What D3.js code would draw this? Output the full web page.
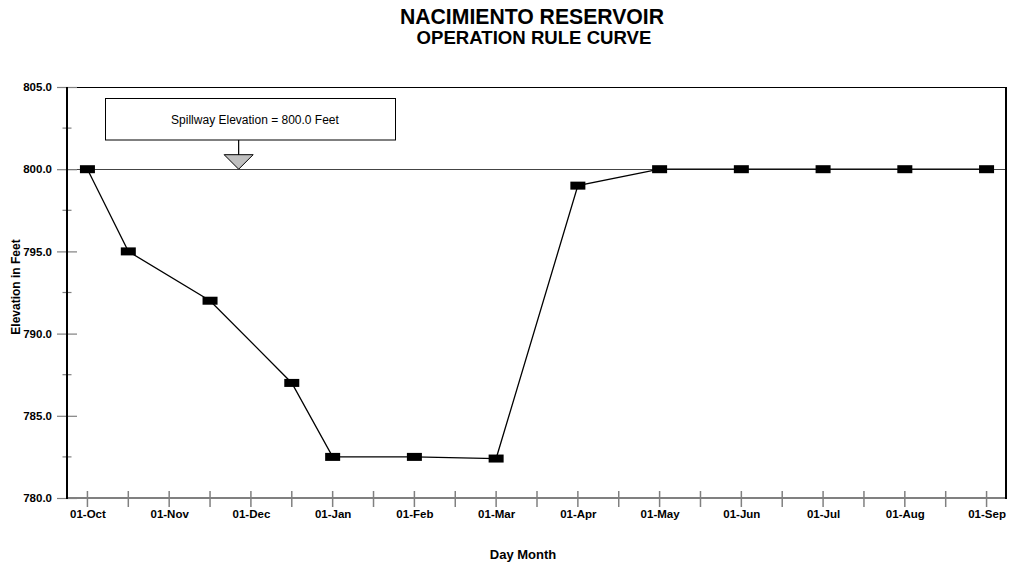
<!DOCTYPE html>
<html>
<head>
<meta charset="utf-8">
<script src="https://cdn.jsdelivr.net/npm/d3@7"></script>
<style>
  html, body { margin: 0; padding: 0; background: #fff; }
  svg { display: block; font-family: "Liberation Sans", Arial, Helvetica, sans-serif; }
</style>
</head>
<body>
<svg id="chart" width="1013" height="567"></svg>
<script>
// ---- data ----
const monthLabels = ["01-Oct","01-Nov","01-Dec","01-Jan","01-Feb","01-Mar","01-Apr","01-May","01-Jun","01-Jul","01-Aug","01-Sep"];
const pointDates   = ["01-Oct","15-Oct","15-Nov","15-Dec","01-Jan","01-Feb","01-Mar","01-Apr","01-May","01-Jun","01-Jul","01-Aug","01-Sep"];
const pointMonthOffset = [0, 0.5, 1.5, 2.5, 3, 4, 5, 6, 7, 8, 9, 10, 11];
const elevations  = [800, 795, 792, 787, 782.5, 782.5, 782.4, 799, 800, 800, 800, 800, 800];
const yTicks      = [780, 785, 790, 795, 800, 805];
const yMinorTicks = [782.5, 787.5, 792.5, 797.5, 802.5];
const spillwayElevation = 800;
const spillwayMonthOffset = 1.85;
const titleLines = ["NACIMIENTO RESERVOIR", "OPERATION RULE CURVE"];

// ---- layout ----
const svg = d3.select("#chart");
const L = 67, R = 1007, T = 87, B = 498;

const x = d3.scaleLinear().domain([-0.25, 11.25]).range([L, R]);
const y = d3.scaleLinear().domain([780, 805]).range([B, T]);

const grey = "#808080";

// titles
svg.append("text").attr("x", 532).attr("y", 24).attr("text-anchor", "middle")
  .attr("font-size", 21.2).attr("font-weight", "bold").text(titleLines[0]);
svg.append("text").attr("x", 534).attr("y", 43.5).attr("text-anchor", "middle")
  .attr("font-size", 18.6).attr("font-weight", "bold").text(titleLines[1]);

// top border
svg.append("line").attr("x1", L).attr("x2", R).attr("y1", T + 0.5).attr("y2", T + 0.5)
  .attr("stroke", "#000").attr("stroke-width", 1);

// spillway line
svg.append("line").attr("x1", L).attr("x2", R)
  .attr("y1", Math.round(y(spillwayElevation)) + 0.5).attr("y2", Math.round(y(spillwayElevation)) + 0.5)
  .attr("stroke", "#444").attr("stroke-width", 1);

// Y axis
const yAxis = svg.append("g").attr("transform", `translate(${L},0)`)
  .call(d3.axisLeft(y).tickValues(yTicks).tickFormat(d3.format(".1f")).tickSize(10).tickPadding(5));
yAxis.select(".domain").remove();
yAxis.selectAll(".tick line").attr("x1", 10).attr("stroke", grey).attr("stroke-width", 1.2);
yAxis.selectAll(".tick text").attr("font-size", 11.5).attr("font-weight", "bold")
  .attr("font-family", "Liberation Sans, Arial, sans-serif").attr("fill", "#000");
svg.append("g").selectAll("line").data(yMinorTicks).join("line")
  .attr("x1", L - 4.5).attr("x2", L + 4.5)
  .attr("y1", d => y(d)).attr("y2", d => y(d))
  .attr("stroke", grey).attr("stroke-width", 1.2);

// X axis
const xMinor = d3.range(0, 11.01, 0.5);
const xAxis = svg.append("g").attr("transform", `translate(0,${B})`)
  .call(d3.axisBottom(x).tickValues(d3.range(0, 12)).tickFormat(i => monthLabels[i]).tickSize(9));
xAxis.select(".domain").remove();
xAxis.selectAll(".tick line").remove();
xAxis.selectAll(".tick text").attr("y", 20).attr("dy", 0).attr("font-size", 11.5)
  .attr("font-weight", "bold").attr("font-family", "Liberation Sans, Arial, sans-serif").attr("fill", "#000");
svg.append("g").selectAll("line").data(xMinor).join("line")
  .attr("x1", d => x(d)).attr("x2", d => x(d))
  .attr("y1", B - 7).attr("y2", B + 9)
  .attr("stroke", grey).attr("stroke-width", 1.5);
svg.append("line").attr("x1", L).attr("x2", R).attr("y1", B).attr("y2", B)
  .attr("stroke", grey).attr("stroke-width", 2);

// left axis line & right border
svg.append("line").attr("x1", L).attr("x2", L).attr("y1", T).attr("y2", B + 1)
  .attr("stroke", "#000").attr("stroke-width", 2);
svg.append("line").attr("x1", R - 1).attr("x2", R - 1).attr("y1", T).attr("y2", B + 1)
  .attr("stroke", "#000").attr("stroke-width", 2);

// axis titles
svg.append("text").attr("transform", `translate(20,${287}) rotate(-90)`)
  .attr("text-anchor", "middle").attr("font-size", 12).attr("font-weight", "bold").text("Elevation in Feet");
svg.append("text").attr("x", 523).attr("y", 559).attr("text-anchor", "middle")
  .attr("font-size", 13).attr("font-weight", "bold").text("Day Month");

// spillway annotation
const ax = x(spillwayMonthOffset);
const ay = y(spillwayElevation);
svg.append("rect").attr("x", 105.5).attr("y", 98.5).attr("width", 290).attr("height", 41.5)
  .attr("fill", "#fff").attr("stroke", "#000").attr("stroke-width", 1);
svg.append("text").attr("x", 255).attr("y", 124).attr("text-anchor", "middle")
  .attr("font-size", 12).text("Spillway Elevation = " + spillwayElevation.toFixed(1) + " Feet");
svg.append("line").attr("x1", ax).attr("x2", ax).attr("y1", 140).attr("y2", ay - 14)
  .attr("stroke", "#000").attr("stroke-width", 1.2);
svg.append("path")
  .attr("d", `M${ax - 14.5},${ay - 14.5} L${ax + 14.5},${ay - 14.5} L${ax},${ay} Z`)
  .attr("fill", "#c0c0c0").attr("stroke", "#000").attr("stroke-width", 1);

// data line
const line = d3.line().x((d, i) => x(pointMonthOffset[i])).y(d => y(d));
svg.append("path").datum(elevations).attr("d", line)
  .attr("fill", "none").attr("stroke", "#000").attr("stroke-width", 1.3);

// markers
svg.append("g").selectAll("rect").data(elevations).join("rect")
  .attr("x", (d, i) => x(pointMonthOffset[i]) - 7.5)
  .attr("y", d => y(d) - 4)
  .attr("width", 15).attr("height", 8)
  .attr("fill", "#000")
  .append("title").text((d, i) => pointDates[i] + ": " + d);
</script>
</body>
</html>
